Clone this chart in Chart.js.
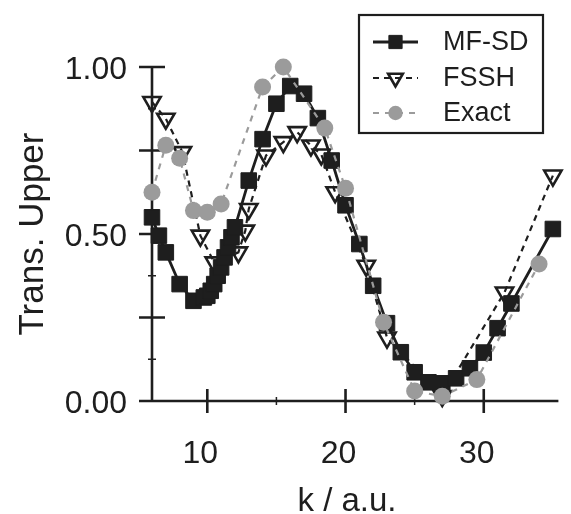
<!DOCTYPE html>
<html>
<head>
<meta charset="utf-8">
<script src="https://cdn.jsdelivr.net/npm/chart.js@4.4.1/dist/chart.umd.min.js"></script>
<style>
  html, body { margin: 0; padding: 0; background: #fff; }
</style>
</head>
<body>
<canvas id="chart" width="571" height="514"></canvas>
<script>
// ── data ─────────────────────────────────────────────────────────────────
const mfsdK   = [6, 6.5, 7, 8, 9, 9.75, 10, 10.25, 10.5, 10.75, 11, 11.25, 11.5, 11.75, 12, 13, 14, 15, 16, 17, 18, 19, 20, 21, 22, 23, 24, 25, 26, 27, 28, 29, 30, 31, 32, 35];
const mfsdVal = [0.55, 0.495, 0.445, 0.35, 0.30, 0.31, 0.315, 0.33, 0.35, 0.375, 0.40, 0.43, 0.46, 0.49, 0.52, 0.66, 0.784, 0.89, 0.943, 0.92, 0.847, 0.72, 0.586, 0.47, 0.345, 0.233, 0.146, 0.086, 0.056, 0.053, 0.068, 0.098, 0.145, 0.218, 0.292, 0.515];

const fsshK   = [6, 7, 8.2, 9.5, 10.5, 12.25, 12.75, 13, 14.25, 15.5, 16.5, 17.5, 18.25, 19.25, 21.5, 23, 27, 31.5, 35];
const fsshVal = [0.895, 0.845, 0.745, 0.495, 0.415, 0.445, 0.51, 0.575, 0.735, 0.775, 0.805, 0.765, 0.738, 0.625, 0.405, 0.19, 0.015, 0.325, 0.675];

const exactK   = [6, 7, 8, 9, 10, 11, 14, 15.5, 18.5, 20, 22.75, 25, 27, 29.5, 34];
const exactVal = [0.625, 0.766, 0.727, 0.57, 0.565, 0.59, 0.94, 1.0, 0.817, 0.637, 0.236, 0.03, 0.014, 0.064, 0.41];

const xTickLabels = [10, 20, 30];
const yTickLabels = [0, 0.5, 1];
const xMajor = [10, 20, 30];
const xMinor = [15, 25];
const yMajor = [0, 0.25, 0.5, 0.75, 1];
const yMinor = [0.125, 0.375, 0.625, 0.875];

const INK = '#1e1e1e';
const GREY = '#9b9b9b';
const FONT = 'Liberation Sans, Arial, Helvetica, sans-serif';

const toPts = (xs, ys) => xs.map((x, i) => ({ x, y: ys[i] }));

// ── axes drawn by hand: crossing major ticks, small minor ticks ─────────
const axesPlugin = {
  id: 'axesPlugin',
  beforeDatasetsDraw(chart) {
    const { ctx, scales: { x, y } } = chart;
    const x0 = x.getPixelForValue(x.min), x1 = x.right;
    const y0 = y.getPixelForValue(0), y1 = y.getPixelForValue(1);
    ctx.save();
    ctx.strokeStyle = INK;
    ctx.lineWidth = 2.6;
    ctx.beginPath();
    ctx.moveTo(x0, y0); ctx.lineTo(x1, y0);
    ctx.moveTo(x0, y0); ctx.lineTo(x0, y1);
    yMajor.forEach(v => { const p = y.getPixelForValue(v); ctx.moveTo(x0 - 13, p); ctx.lineTo(x0 + 13, p); });
    xMajor.forEach(v => { const p = x.getPixelForValue(v); ctx.moveTo(p, y0 - 12); ctx.lineTo(p, y0 + 12); });
    ctx.stroke();
    ctx.lineWidth = 1.5;
    ctx.beginPath();
    yMinor.forEach(v => { const p = y.getPixelForValue(v); ctx.moveTo(x0 - 4, p); ctx.lineTo(x0 + 4, p); });
    xMinor.forEach(v => { const p = x.getPixelForValue(v); ctx.moveTo(p, y0 - 4); ctx.lineTo(p, y0 + 4); });
    ctx.stroke();

    // axis titles
    ctx.fillStyle = INK;
    ctx.textAlign = 'center';
    ctx.textBaseline = 'alphabetic';
    ctx.font = `33px ${FONT}`;
    ctx.fillText('k / a.u.', 347, 511);
    ctx.font = `35px ${FONT}`;
    ctx.translate(43, (y0 + y1) / 2);
    ctx.rotate(-Math.PI / 2);
    ctx.fillText('Trans. Upper', 0, 0);
    ctx.restore();
  }
};

// ── boxed legend with line samples ──────────────────────────────────────
const legendPlugin = {
  id: 'boxLegend',
  afterDatasetsDraw(chart) {
    const ctx = chart.ctx;
    const box = { l: 359, t: 15, r: 543, b: 133 };
    const rows = [42, 78, 113];
    ctx.save();
    ctx.fillStyle = '#fff';
    ctx.fillRect(box.l, box.t, box.r - box.l, box.b - box.t);
    ctx.strokeStyle = INK;
    ctx.lineWidth = 2.2;
    ctx.strokeRect(box.l, box.t, box.r - box.l, box.b - box.t);
    chart.data.datasets.forEach((ds, i) => {
      const yy = rows[i];
      ctx.save();
      ctx.strokeStyle = ds.borderColor;
      ctx.lineWidth = ds.borderWidth;
      ctx.setLineDash(ds.borderDash || []);
      ctx.beginPath();
      ctx.moveTo(373, yy); ctx.lineTo(418, yy);
      ctx.stroke();
      ctx.restore();
      ctx.save();
      ctx.fillStyle = ds.pointBackgroundColor;
      ctx.strokeStyle = ds.pointBorderColor;
      ctx.lineWidth = ds.pointBorderWidth;
      Chart.helpers.drawPoint(ctx, {
        pointStyle: ds.pointStyle,
        rotation: ds.pointRotation || 0,
        radius: ds.pointRadius * 0.85,
        borderWidth: ds.pointBorderWidth
      }, 395.5, yy);
      ctx.restore();
      ctx.fillStyle = INK;
      ctx.font = `27px ${FONT}`;
      ctx.textAlign = 'left';
      ctx.textBaseline = 'middle';
      ctx.fillText(ds.label, 443, yy + 1);
    });
    ctx.restore();
  }
};

new Chart(document.getElementById('chart'), {
  type: 'scatter',
  data: {
    datasets: [
      {
        label: 'MF-SD',
        data: toPts(mfsdK, mfsdVal),
        showLine: true,
        borderColor: INK,
        borderWidth: 2.8,
        pointStyle: 'rect',
        pointRadius: 11,
        pointBackgroundColor: INK,
        pointBorderColor: INK,
        pointBorderWidth: 1,
        clip: false,
        order: 1
      },
      {
        label: 'FSSH',
        data: toPts(fsshK, fsshVal),
        showLine: true,
        borderColor: INK,
        borderWidth: 2.2,
        borderDash: [6, 5],
        pointStyle: 'triangle',
        pointRotation: 180,
        pointRadius: 10,
        pointBackgroundColor: 'rgba(0,0,0,0)',
        pointBorderColor: INK,
        pointBorderWidth: 2.6,
        clip: false,
        order: 2
      },
      {
        label: 'Exact',
        data: toPts(exactK, exactVal),
        showLine: true,
        borderColor: GREY,
        borderWidth: 2.2,
        borderDash: [6, 6],
        pointStyle: 'circle',
        pointRadius: 8.5,
        pointBackgroundColor: GREY,
        pointBorderColor: GREY,
        pointBorderWidth: 0,
        clip: false,
        order: 0
      }
    ]
  },
  options: {
    responsive: false,
    animation: false,
    devicePixelRatio: 1,
    layout: { padding: { left: 0, top: 67, right: 2, bottom: 0 } },
    plugins: { legend: { display: false }, tooltip: { enabled: false } },
    scales: {
      x: {
        type: 'linear',
        min: 6,
        max: 35.4,
        border: { display: false },
        grid: { display: false, drawTicks: false },
        afterBuildTicks: s => { s.ticks = xTickLabels.map(v => ({ value: v })); },
        afterFit: s => { s.height = 113; },
        ticks: {
          padding: 34,
          labelOffset: -7,
          color: INK,
          font: { family: FONT, size: 32 },
          callback: v => String(v)
        }
      },
      y: {
        type: 'linear',
        min: 0,
        max: 1,
        border: { display: false },
        grid: { display: false, drawTicks: false },
        afterBuildTicks: s => { s.ticks = yTickLabels.map(v => ({ value: v })); },
        afterFit: s => { s.width = 152; },
        ticks: {
          padding: 25,
          labelOffset: 3,
          color: INK,
          font: { family: FONT, size: 32 },
          callback: v => Number(v).toFixed(2)
        }
      }
    }
  },
  plugins: [axesPlugin, legendPlugin]
});
</script>
</body>
</html>
